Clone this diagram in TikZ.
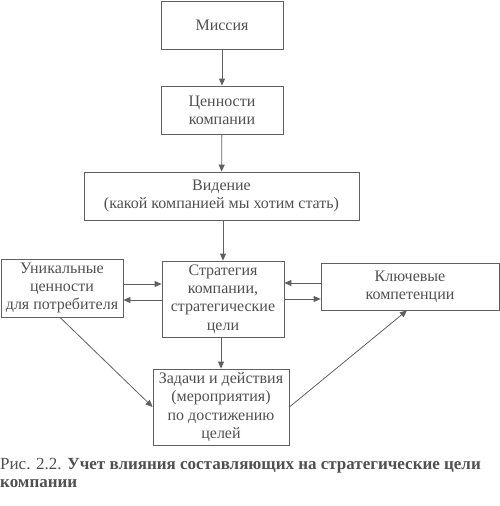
\documentclass[tikz,border=0pt]{standalone}
\usepackage{fontspec}
\setmainfont{Liberation Serif}
\usetikzlibrary{arrows.meta}
\definecolor{inkgrey}{HTML}{505050}
\definecolor{linegrey}{HTML}{606060}
\begin{document}
\begin{tikzpicture}[x = 1pt, y = -1pt,
		box/.style = {draw = linegrey, line width = 0.8pt, align = center, inner sep = 0pt, text = inkgrey,
			font = \fontsize{16}{18.3}\selectfont},
		arr/.style = {draw = linegrey, line width = 0.8pt, -{Triangle[length = 7pt, width = 6pt]}}]
	\useasboundingbox (0, 0) rectangle (500, 506);
	\node[box, minimum width = 122pt, minimum height = 48pt] (mission) at (222, 25) {Миссия};
	\node[box, minimum width = 122pt, minimum height = 48pt] (values) at (222, 110) {Ценности\\компании};
	\node[box, minimum width = 275pt, minimum height = 48pt] (vision) at (221.5, 196) {Видение\\(какой компанией мы хотим стать)};
	\node[box, minimum width = 122pt, minimum height = 76pt] (strategy) at (223, 299) {Стратегия\\компании,\\стратегические\\цели};
	\node[box, minimum width = 122pt, minimum height = 58pt] (unique) at (62, 288) {Уникальные\\ценности\\для потребителя};
	\node[box, minimum width = 178pt, minimum height = 47pt] (key) at (410, 286.5) {Ключевые\\компетенции};
	\node[box, minimum width = 136pt, minimum height = 76pt] (tasks) at (221, 407) {Задачи и действия\\(мероприятия)\\по достижению\\целей};
	\draw[arr] (mission) -- (values);
	\draw[arr] (values) -- (vision);
	\draw[arr] (vision.south -| strategy) -- (strategy);
	\draw[arr] ([yshift = 4pt]unique.east) -- ([yshift = 4pt]unique.east -| strategy.west);
	\draw[arr] ([yshift = -12pt]unique.east -| strategy.west) -- ([yshift = -12pt]unique.east);
	\draw[arr] ([yshift = 3.5pt]key.west) -- ([yshift = 3.5pt]key.west -| strategy.east);
	\draw[arr] ([yshift = -12.5pt]key.west -| strategy.east) -- ([yshift = -12.5pt]key.west);
	\draw[arr] (strategy.south -| tasks) -- (tasks);
	\draw[arr] ([xshift = -2pt]unique.south) -- (tasks.west);
	\draw[arr] (tasks.east) -- ([xshift = -3pt]key.south);
	\node[anchor = north west, align = left, inner sep = 0pt, text = inkgrey, font = \fontsize{17}{18}\selectfont] (caption) at (0, 458)
		{Рис. 2.2. \textbf{Учет влияния составляющих на стратегические цели}\\\textbf{компании}};
\end{tikzpicture}
\end{document}
